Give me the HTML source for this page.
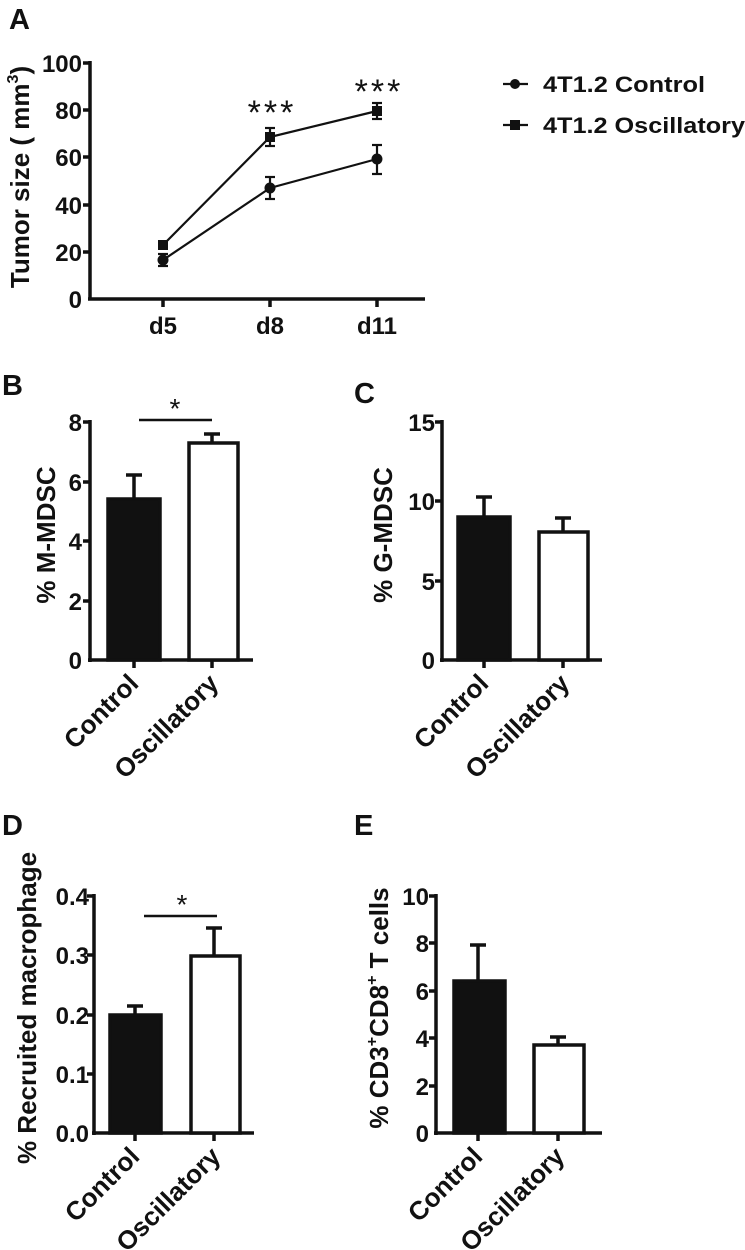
<!DOCTYPE html>
<html><head><meta charset="utf-8"><style>
html,body{margin:0;padding:0;background:#fff}
svg{display:block}
text{font-family:"Liberation Sans",Arial,sans-serif;fill:#111}
.t{font-size:24px;font-weight:bold}
.r{font-size:26px;font-weight:bold}
.lab{font-size:26px;font-weight:bold}
.L{font-size:29px;font-weight:bold}
</style></head><body>
<svg width="745" height="1250" viewBox="0 0 745 1250" xmlns="http://www.w3.org/2000/svg" stroke-linecap="butt">
<!-- Panel A -->
<text class="L" x="9" y="29">A</text>
<g stroke="#111" stroke-width="3.5" fill="none">
<line x1="90" y1="61" x2="90" y2="300"/>
<line x1="88" y1="299" x2="425" y2="299"/>
<line x1="83" y1="63" x2="90" y2="63"/><line x1="83" y1="110" x2="90" y2="110"/><line x1="83" y1="157" x2="90" y2="157"/><line x1="83" y1="205" x2="90" y2="205"/><line x1="83" y1="252" x2="90" y2="252"/>
<line x1="163" y1="299" x2="163" y2="307"/><line x1="270" y1="299" x2="270" y2="307"/><line x1="377" y1="299" x2="377" y2="307"/>
</g>
<g class="t" text-anchor="end">
<text x="82" y="72">100</text><text x="82" y="119">80</text><text x="82" y="166">60</text><text x="82" y="214">40</text><text x="82" y="261">20</text><text x="82" y="308">0</text>
</g>
<g class="t" text-anchor="middle"><text x="163" y="334">d5</text><text x="270" y="334">d8</text><text x="377" y="334">d11</text></g>
<text class="lab" transform="translate(29,177) rotate(-90)" text-anchor="middle">Tumor size ( mm<tspan font-size="16" dy="-11">3</tspan><tspan dy="11">)</tspan></text>
<g stroke="#111" stroke-width="2.2" fill="none">
<polyline points="163,260 270,188 377,159"/>
<polyline points="163,245 270,137 377,111"/>
<line x1="163" y1="254" x2="163" y2="266"/><line x1="158" y1="254" x2="168" y2="254"/><line x1="158" y1="266" x2="168" y2="266"/>
<line x1="270" y1="177" x2="270" y2="199"/><line x1="265" y1="177" x2="275" y2="177"/><line x1="265" y1="199" x2="275" y2="199"/>
<line x1="377" y1="145" x2="377" y2="174"/><line x1="372" y1="145" x2="382" y2="145"/><line x1="372" y1="174" x2="382" y2="174"/>
<line x1="270" y1="128" x2="270" y2="146"/><line x1="265" y1="128" x2="275" y2="128"/><line x1="265" y1="146" x2="275" y2="146"/>
<line x1="377" y1="103" x2="377" y2="119"/><line x1="372" y1="103" x2="382" y2="103"/><line x1="372" y1="119" x2="382" y2="119"/>
</g>
<g fill="#111">
<circle cx="163" cy="260" r="5.5"/><circle cx="270" cy="188" r="5.5"/><circle cx="377" cy="159" r="5.5"/>
<rect x="158" y="240" width="10" height="10"/><rect x="265" y="132" width="10" height="10"/><rect x="372" y="106" width="10" height="10"/>
</g>
<g font-size="34" text-anchor="middle" style="font-weight:normal;letter-spacing:3px"><text x="272" y="124">***</text><text x="379" y="103">***</text></g>
<!-- legend -->
<g stroke="#111" stroke-width="2.2"><line x1="503" y1="84" x2="528" y2="84"/><line x1="503" y1="125" x2="528" y2="125"/></g>
<circle cx="515" cy="84" r="5" fill="#111"/><rect x="510" y="120" width="10" height="10" fill="#111"/>
<text x="543" y="92" font-size="22" font-weight="bold" textLength="162" lengthAdjust="spacingAndGlyphs">4T1.2 Control</text>
<text x="543" y="133" font-size="22" font-weight="bold" textLength="202" lengthAdjust="spacingAndGlyphs">4T1.2 Oscillatory</text>

<!-- Panel B -->
<text class="L" x="2" y="395">B</text>
<g stroke="#111" stroke-width="3.5" fill="none">
<line x1="90" y1="420" x2="90" y2="662"/><line x1="88" y1="660" x2="253" y2="660"/>
<line x1="83" y1="422" x2="90" y2="422"/><line x1="83" y1="482" x2="90" y2="482"/><line x1="83" y1="541" x2="90" y2="541"/><line x1="83" y1="601" x2="90" y2="601"/>
<line x1="134" y1="660" x2="134" y2="668"/><line x1="212" y1="660" x2="212" y2="668"/>
<line x1="134" y1="499" x2="134" y2="475"/><line x1="126" y1="475" x2="142" y2="475"/>
<line x1="212" y1="443" x2="212" y2="434"/><line x1="204" y1="434" x2="220" y2="434"/>
<rect x="108" y="499" width="52" height="161" fill="#111"/>
<rect x="189" y="443" width="49" height="217" fill="#fff"/>
<line x1="139" y1="420" x2="212" y2="420" stroke-width="2.5"/>
</g>
<text x="175" y="418" font-size="28" text-anchor="middle">*</text>
<g class="t" text-anchor="end"><text x="82" y="431">8</text><text x="82" y="491">6</text><text x="82" y="550">4</text><text x="82" y="610">2</text><text x="82" y="669">0</text></g>
<text class="r" text-anchor="end" transform="translate(140,685) rotate(-45)">Control</text>
<text class="r" text-anchor="end" transform="translate(220,685) rotate(-45)">Oscillatory</text>
<text class="lab" text-anchor="middle" transform="translate(55,535) rotate(-90)">% M-MDSC</text>

<!-- Panel C -->
<text class="L" x="354" y="403">C</text>
<g stroke="#111" stroke-width="3.5" fill="none">
<line x1="442" y1="420" x2="442" y2="662"/><line x1="440" y1="660" x2="602" y2="660"/>
<line x1="435" y1="422" x2="442" y2="422"/><line x1="435" y1="501" x2="442" y2="501"/><line x1="435" y1="581" x2="442" y2="581"/>
<line x1="484" y1="660" x2="484" y2="668"/><line x1="563" y1="660" x2="563" y2="668"/>
<line x1="484" y1="517" x2="484" y2="497"/><line x1="476" y1="497" x2="492" y2="497"/>
<line x1="563" y1="532" x2="563" y2="518"/><line x1="555" y1="518" x2="571" y2="518"/>
<rect x="458" y="517" width="52" height="143" fill="#111"/>
<rect x="539" y="532" width="49" height="128" fill="#fff"/>
</g>
<g class="t" text-anchor="end"><text x="435" y="431">15</text><text x="435" y="510">10</text><text x="435" y="590">5</text><text x="435" y="669">0</text></g>
<text class="r" text-anchor="end" transform="translate(490,685) rotate(-45)">Control</text>
<text class="r" text-anchor="end" transform="translate(571,685) rotate(-45)">Oscillatory</text>
<text class="lab" text-anchor="middle" transform="translate(392,535) rotate(-90)">% G-MDSC</text>

<!-- Panel D -->
<text class="L" x="2" y="835">D</text>
<g stroke="#111" stroke-width="3.5" fill="none">
<line x1="94" y1="894" x2="94" y2="1135"/><line x1="92" y1="1133" x2="254" y2="1133"/>
<line x1="87" y1="896" x2="94" y2="896"/><line x1="87" y1="955" x2="94" y2="955"/><line x1="87" y1="1015" x2="94" y2="1015"/><line x1="87" y1="1074" x2="94" y2="1074"/>
<line x1="135" y1="1133" x2="135" y2="1141"/><line x1="214" y1="1133" x2="214" y2="1141"/>
<line x1="135" y1="1015" x2="135" y2="1006"/><line x1="127" y1="1006" x2="143" y2="1006"/>
<line x1="214" y1="956" x2="214" y2="928"/><line x1="206" y1="928" x2="222" y2="928"/>
<rect x="110" y="1015" width="51" height="118" fill="#111"/>
<rect x="191" y="956" width="49" height="177" fill="#fff"/>
<line x1="144" y1="916" x2="217" y2="916" stroke-width="2.5"/>
</g>
<text x="182" y="914" font-size="28" text-anchor="middle">*</text>
<g class="t" text-anchor="end"><text x="89" y="905">0.4</text><text x="89" y="964">0.3</text><text x="89" y="1024">0.2</text><text x="89" y="1083">0.1</text><text x="89" y="1142">0.0</text></g>
<text class="r" text-anchor="end" transform="translate(141,1158) rotate(-45)">Control</text>
<text class="r" text-anchor="end" transform="translate(222,1158) rotate(-45)">Oscillatory</text>
<text class="lab" text-anchor="middle" transform="translate(36,1008) rotate(-90)">% Recruited macrophage</text>

<!-- Panel E -->
<text class="L" x="354" y="835">E</text>
<g stroke="#111" stroke-width="3.5" fill="none">
<line x1="436" y1="894" x2="436" y2="1135"/><line x1="434" y1="1133" x2="602" y2="1133"/>
<line x1="429" y1="896" x2="436" y2="896"/><line x1="429" y1="943" x2="436" y2="943"/><line x1="429" y1="991" x2="436" y2="991"/><line x1="429" y1="1038" x2="436" y2="1038"/><line x1="429" y1="1086" x2="436" y2="1086"/>
<line x1="478" y1="1133" x2="478" y2="1141"/><line x1="558" y1="1133" x2="558" y2="1141"/>
<line x1="478" y1="981" x2="478" y2="945"/><line x1="470" y1="945" x2="486" y2="945"/>
<line x1="558" y1="1045" x2="558" y2="1037"/><line x1="550" y1="1037" x2="566" y2="1037"/>
<rect x="454" y="981" width="51" height="152" fill="#111"/>
<rect x="534" y="1045" width="50" height="88" fill="#fff"/>
</g>
<g class="t" text-anchor="end"><text x="429" y="905">10</text><text x="429" y="952">8</text><text x="429" y="1000">6</text><text x="429" y="1047">4</text><text x="429" y="1095">2</text><text x="429" y="1142">0</text></g>
<text class="r" text-anchor="end" transform="translate(484,1158) rotate(-45)">Control</text>
<text class="r" text-anchor="end" transform="translate(566,1158) rotate(-45)">Oscillatory</text>
<text class="lab" text-anchor="middle" transform="translate(388,1008) rotate(-90)">% CD3<tspan font-size="16" dy="-11">+</tspan><tspan dy="11">CD8</tspan><tspan font-size="16" dy="-11">+</tspan><tspan dy="11"> T cells</tspan></text>
</svg>
</body></html>
